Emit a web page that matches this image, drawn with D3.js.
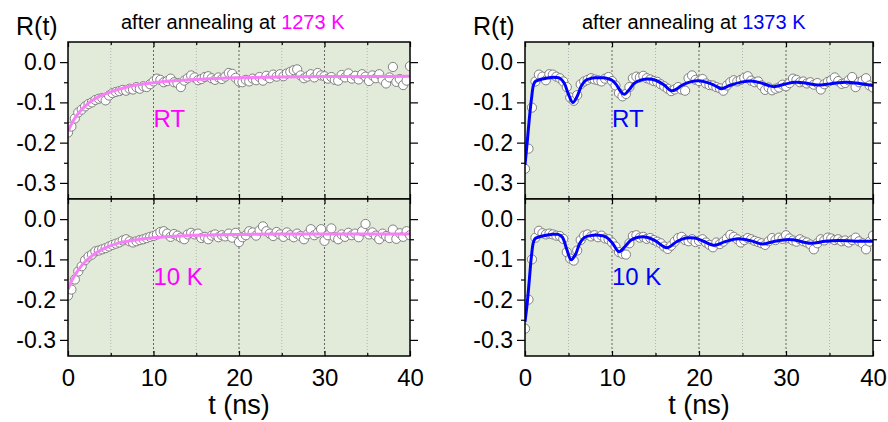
<!DOCTYPE html>
<html>
<head>
<meta charset="utf-8">
<script src="https://cdn.jsdelivr.net/npm/d3@7"></script>
<style>
  body { margin: 0; background: #fff; }
  svg { display: block; }
  text { font-family: "Liberation Sans", Arial, Helvetica, sans-serif; }
</style>
</head>
<body>
<svg width="888" height="422"></svg>
<script>
// channel width of the spectra (ns)
const dt = 0.4;

// R(t) data, one value per channel, t = 0 .. 40 ns
const rt1273 = [
  -0.175,-0.160,-0.140,-0.125,-0.118,-0.110,-0.104,-0.100,-0.094,-0.091,
  -0.089,-0.095,-0.083,-0.077,-0.074,-0.072,-0.069,-0.071,-0.066,-0.068,
  -0.062,-0.066,-0.060,-0.062,-0.055,-0.048,-0.041,-0.044,-0.050,-0.047,
  -0.041,-0.050,-0.052,-0.062,-0.046,-0.040,-0.033,-0.038,-0.045,-0.042,
  -0.037,-0.035,-0.040,-0.044,-0.038,-0.042,-0.036,-0.027,-0.029,-0.039,
  -0.048,-0.050,-0.044,-0.048,-0.041,-0.045,-0.037,-0.046,-0.034,-0.040,
  -0.031,-0.036,-0.030,-0.035,-0.028,-0.024,-0.020,-0.018,-0.033,-0.040,
  -0.036,-0.030,-0.038,-0.027,-0.033,-0.035,-0.041,-0.037,-0.044,-0.046,
  -0.032,-0.038,-0.028,-0.041,-0.034,-0.043,-0.030,-0.036,-0.047,-0.033,
  -0.040,-0.030,-0.044,-0.053,-0.038,-0.012,-0.049,-0.042,-0.057,-0.046,
  -0.010
];
const k10_1273 = [
  -0.190,-0.175,-0.150,-0.130,-0.117,-0.102,-0.093,-0.088,-0.080,-0.078,
  -0.075,-0.072,-0.068,-0.064,-0.061,-0.058,-0.053,-0.050,-0.055,-0.058,
  -0.055,-0.052,-0.050,-0.047,-0.044,-0.042,-0.038,-0.032,-0.030,-0.036,
  -0.044,-0.037,-0.041,-0.046,-0.050,-0.038,-0.034,-0.038,-0.036,-0.047,
  -0.044,-0.050,-0.041,-0.038,-0.045,-0.040,-0.043,-0.036,-0.046,-0.034,
  -0.057,-0.045,-0.040,-0.030,-0.033,-0.041,-0.028,-0.018,-0.030,-0.036,
  -0.042,-0.032,-0.038,-0.044,-0.033,-0.040,-0.045,-0.036,-0.042,-0.050,
  -0.038,-0.025,-0.040,-0.034,-0.025,-0.054,-0.040,-0.023,-0.045,-0.050,
  -0.038,-0.044,-0.034,-0.040,-0.036,-0.045,-0.030,-0.012,-0.038,-0.033,
  -0.041,-0.050,-0.036,-0.042,-0.047,-0.026,-0.049,-0.035,-0.044,-0.030,
  -0.040
];
const rt1373 = [
  -0.265,-0.215,-0.113,-0.048,-0.031,-0.036,-0.045,-0.030,-0.031,-0.036,
  -0.040,-0.048,-0.062,-0.088,-0.096,-0.082,-0.055,-0.048,-0.044,-0.040,
  -0.043,-0.045,-0.048,-0.041,-0.037,-0.047,-0.058,-0.077,-0.085,-0.079,
  -0.062,-0.040,-0.036,-0.038,-0.034,-0.040,-0.043,-0.047,-0.049,-0.055,
  -0.060,-0.066,-0.072,-0.068,-0.062,-0.068,-0.071,-0.040,-0.033,-0.044,
  -0.047,-0.042,-0.053,-0.057,-0.058,-0.062,-0.065,-0.071,-0.058,-0.050,
  -0.045,-0.048,-0.044,-0.039,-0.035,-0.046,-0.050,-0.048,-0.058,-0.069,
  -0.063,-0.070,-0.066,-0.063,-0.056,-0.060,-0.052,-0.041,-0.044,-0.050,
  -0.048,-0.053,-0.050,-0.056,-0.052,-0.068,-0.055,-0.049,-0.045,-0.038,
  -0.047,-0.054,-0.052,-0.045,-0.037,-0.062,-0.050,-0.046,-0.040,-0.058,
  -0.063
];
const k10_1373 = [
  -0.272,-0.200,-0.100,-0.046,-0.029,-0.035,-0.038,-0.036,-0.038,-0.041,
  -0.042,-0.049,-0.082,-0.098,-0.103,-0.078,-0.052,-0.041,-0.038,-0.043,
  -0.040,-0.045,-0.041,-0.048,-0.050,-0.058,-0.068,-0.082,-0.086,-0.088,
  -0.060,-0.042,-0.040,-0.046,-0.044,-0.049,-0.047,-0.052,-0.056,-0.060,
  -0.068,-0.074,-0.066,-0.056,-0.047,-0.044,-0.052,-0.055,-0.050,-0.057,
  -0.054,-0.050,-0.058,-0.064,-0.070,-0.058,-0.062,-0.056,-0.048,-0.039,
  -0.044,-0.050,-0.058,-0.052,-0.047,-0.050,-0.054,-0.057,-0.060,-0.064,
  -0.055,-0.047,-0.052,-0.046,-0.049,-0.040,-0.048,-0.053,-0.056,-0.050,
  -0.055,-0.058,-0.063,-0.075,-0.060,-0.050,-0.053,-0.046,-0.048,-0.052,
  -0.050,-0.055,-0.053,-0.058,-0.052,-0.046,-0.055,-0.060,-0.075,-0.056,
  -0.041
];

// fitted curves, [t (ns), R]
const fitRt1273 = [[0,-0.172],[0.5,-0.150],[1,-0.133],[1.5,-0.120],[2,-0.109],[3,-0.093],
  [4,-0.082],[5,-0.074],[6,-0.067],[7,-0.061],[8,-0.057],[10,-0.051],[12,-0.047],
  [15,-0.043],[20,-0.039],[25,-0.037],[30,-0.036],[35,-0.036],[40,-0.035]];
const fitK10_1273 = [[0,-0.175],[0.5,-0.150],[1,-0.133],[1.5,-0.118],[2,-0.106],[3,-0.088],
  [4,-0.075],[5,-0.066],[6,-0.059],[7,-0.055],[8,-0.051],[10,-0.046],[12,-0.043],
  [15,-0.040],[20,-0.038],[25,-0.037],[30,-0.037],[35,-0.037],[40,-0.037]];
const fitRt1373 = [[0,-0.255],[0.25,-0.200],[0.5,-0.140],[0.75,-0.090],[1,-0.055],[1.25,-0.047],
  [1.5,-0.045],[2,-0.042],[3,-0.038],[3.5,-0.038],[4,-0.040],[4.5,-0.052],[5,-0.080],
  [5.5,-0.100],[6,-0.085],[6.5,-0.058],[7,-0.045],[7.5,-0.041],[8,-0.039],[9,-0.039],
  [9.5,-0.041],[10,-0.045],[10.5,-0.056],[11,-0.073],[11.4,-0.080],[12,-0.068],
  [12.5,-0.054],[13,-0.047],[14,-0.042],[15,-0.045],[16,-0.057],[16.8,-0.071],
  [17.5,-0.066],[18,-0.058],[19,-0.049],[20,-0.046],[21,-0.051],[22,-0.060],[22.6,-0.066],
  [23.5,-0.058],[25,-0.049],[26,-0.047],[27,-0.051],[28,-0.058],[28.6,-0.061],[30,-0.054],
  [31,-0.050],[32,-0.051],[33,-0.055],[34,-0.057],[35,-0.054],[36,-0.051],[37,-0.050],
  [38,-0.052],[39,-0.055],[40,-0.058]];
const fitK10_1373 = [[0,-0.255],[0.25,-0.210],[0.5,-0.150],[0.75,-0.090],[1,-0.055],[1.25,-0.047],
  [1.5,-0.045],[2,-0.042],[3,-0.038],[3.8,-0.038],[4.3,-0.045],[4.8,-0.075],[5.3,-0.101],
  [5.8,-0.088],[6.3,-0.060],[6.8,-0.046],[7.5,-0.041],[8.5,-0.040],[9.3,-0.044],
  [10,-0.058],[10.8,-0.081],[11.5,-0.068],[12.2,-0.052],[13,-0.045],[14,-0.045],
  [15,-0.054],[16.3,-0.071],[17.5,-0.055],[18.5,-0.047],[19.5,-0.047],[20.5,-0.055],
  [21.8,-0.065],[23,-0.056],[24.5,-0.049],[26,-0.054],[27.3,-0.062],[28.5,-0.056],
  [30,-0.051],[31,-0.052],[32.8,-0.060],[34.5,-0.055],[36,-0.053],[38,-0.055],[40,-0.055]];

// axes
const xTicks = [0, 10, 20, 30, 40];
const xMinor = [5, 15, 25, 35];
const yTicks = [0, -0.1, -0.2, -0.3];
const yTickLabels = ["0.0", "-0.1", "-0.2", "-0.3"];
const yMinor = [-0.05, -0.15, -0.25];
const titles = ["1273 K", "1373 K"];
const sampleLabels = ["RT", "10 K"];

const svg = d3.select("svg");
const pink = "#f77ff7", magenta = "#ff00ff", blue = "#0000ff";

const cols = [
  { left: 68, right: 410, color: magenta, line: pink, title: titles[0], data: [rt1273, k10_1273], fit: [fitRt1273, fitK10_1273] },
  { left: 525, right: 873, color: blue, line: blue, title: titles[1], data: [rt1373, k10_1373], fit: [fitRt1373, fitK10_1373] }
];
const rows = [{ top: 42, bottom: 199 }, { top: 199, bottom: 356 }];

cols.forEach(function (c, ci) {
  const x = d3.scaleLinear().domain([0, 40]).range([c.left, c.right]);

  rows.forEach(function (r, ri) {
    const y = d3.scaleLinear().domain([-0.34, 0.05]).range([r.bottom, r.top]);
    const g = svg.append("g");
    const clipId = "clip" + ci + ri;

    g.append("clipPath").attr("id", clipId)
      .append("rect")
      .attr("x", c.left).attr("y", r.top)
      .attr("width", c.right - c.left).attr("height", r.bottom - r.top);

    g.append("rect")
      .attr("x", c.left).attr("y", r.top)
      .attr("width", c.right - c.left).attr("height", r.bottom - r.top)
      .attr("fill", "#e2ebd9");

    // vertical grid
    g.selectAll(".minor").data(xMinor).enter().append("line")
      .attr("x1", d => x(d)).attr("x2", d => x(d))
      .attr("y1", r.top).attr("y2", r.bottom)
      .attr("stroke", "#b4b4b4").attr("stroke-width", 1)
      .attr("stroke-dasharray", "1,2");
    g.selectAll(".major").data([10, 20, 30]).enter().append("line")
      .attr("x1", d => x(d)).attr("x2", d => x(d))
      .attr("y1", r.top).attr("y2", r.bottom)
      .attr("stroke", "#666").attr("stroke-width", 1)
      .attr("stroke-dasharray", "2,2");

    const plot = g.append("g").attr("clip-path", "url(#" + clipId + ")");

    plot.selectAll("circle").data(c.data[ri]).enter().append("circle")
      .attr("cx", (d, i) => x(i * dt))
      .attr("cy", d => y(d))
      .attr("r", 4.6)
      .attr("fill", "#fff")
      .attr("stroke", "#808080")
      .attr("stroke-width", 1);

    plot.append("path")
      .datum(c.fit[ri])
      .attr("fill", "none")
      .attr("stroke", c.line)
      .attr("stroke-width", 3)
      .attr("d", d3.line().x(d => x(d[0])).y(d => y(d[1])).curve(d3.curveCatmullRom.alpha(0.5)));

    // y axes, left with labels and right without
    const yl = g.append("g").attr("transform", "translate(" + c.left + ",0)")
      .call(d3.axisLeft(y).tickValues(yTicks).tickSize(8).tickPadding(4)
        .tickFormat((d, i) => yTickLabels[i]));
    yl.selectAll("text").attr("font-size", 23).attr("fill", "#000")
      .style("font-family", '"Liberation Sans", Arial, sans-serif');
    g.append("g").attr("transform", "translate(" + c.left + ",0)")
      .call(d3.axisLeft(y).tickValues(yMinor).tickSize(4).tickFormat(""));
    g.append("g").attr("transform", "translate(" + c.right + ",0)")
      .call(d3.axisRight(y).tickValues(yTicks).tickSize(8).tickFormat(""));
    g.append("g").attr("transform", "translate(" + c.right + ",0)")
      .call(d3.axisRight(y).tickValues(yMinor).tickSize(4).tickFormat(""));

    // x ticks pointing inwards at top and bottom
    g.append("g").attr("transform", "translate(0," + r.top + ")")
      .call(d3.axisTop(x).tickValues(xTicks).tickSize(-5).tickFormat(""));
    g.append("g").attr("transform", "translate(0," + r.top + ")")
      .call(d3.axisTop(x).tickValues(xMinor).tickSize(-3).tickFormat(""));
    const xb = g.append("g").attr("transform", "translate(0," + r.bottom + ")")
      .call(d3.axisBottom(x).tickValues(xTicks).tickSize(-5).tickPadding(13)
        .tickFormat(ri === 1 ? d3.format("d") : ""));
    xb.selectAll("text").attr("font-size", 24).attr("fill", "#000")
      .style("font-family", '"Liberation Sans", Arial, sans-serif');
    g.append("g").attr("transform", "translate(0," + r.bottom + ")")
      .call(d3.axisBottom(x).tickValues(xMinor).tickSize(-3).tickFormat(""));

    g.selectAll(".domain").remove();
    g.selectAll(".tick line").attr("stroke", "#000").attr("stroke-width", 1.2);

    g.append("rect")
      .attr("x", c.left).attr("y", r.top)
      .attr("width", c.right - c.left).attr("height", r.bottom - r.top)
      .attr("fill", "none").attr("stroke", "#000").attr("stroke-width", 1.5);

    g.append("text")
      .attr("x", x(10)).attr("y", ri === 0 ? 127 : 285)
      .attr("font-size", 24).attr("fill", c.color)
      .text(sampleLabels[ri]);
  });

  // titles and axis names
  svg.append("text")
    .attr("x", c.left - 52).attr("y", 35)
    .attr("font-size", 25)
    .text("R(t)");

  const t = svg.append("text")
    .attr("x", ci === 0 ? 121 : 582).attr("y", 29)
    .attr("font-size", 20);
  t.append("tspan").text("after annealing at ");
  t.append("tspan").attr("fill", c.color).text(c.title);

  svg.append("text")
    .attr("x", (c.left + c.right) / 2).attr("y", 414)
    .attr("text-anchor", "middle")
    .attr("font-size", 27)
    .text("t (ns)");
});
</script>
</body>
</html>
